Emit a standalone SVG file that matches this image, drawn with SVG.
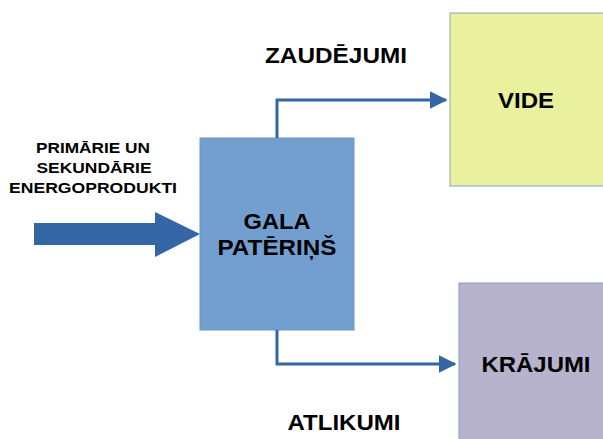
<svg xmlns="http://www.w3.org/2000/svg" width="603" height="439" viewBox="0 0 603 439">
<style>
text{font-family:"Liberation Sans",Arial,sans-serif;font-weight:bold;fill:#000;text-anchor:middle}
.big{font-size:22px}
.small{font-size:15px}
.conn{fill:none;stroke:#3465a4;stroke-width:3}
</style>
<defs>
<marker id="ah" markerWidth="6" markerHeight="6" refX="5.5" refY="3" orient="auto" markerUnits="strokeWidth">
<path d="M0,0 L6,3 L0,6 Z" fill="#3465a4"/>
</marker>
</defs>
<rect width="603" height="439" fill="#fff"/>
<g id="vide">
<rect x="450" y="13" width="160" height="173" fill="#e9f19e" stroke="#8aa3bf" stroke-width="1"/>
<text class="big" x="526" y="108" textLength="56" lengthAdjust="spacingAndGlyphs">VIDE</text>
</g>
<g id="krajumi">
<rect x="459" y="283" width="160" height="170" fill="#b7b3cc" stroke="#7f9fc6" stroke-width="1"/>
<text class="big" x="536" y="372" textLength="109" lengthAdjust="spacingAndGlyphs">KRĀJUMI</text>
</g>
<g id="gala">
<rect x="200" y="138" width="154" height="192" fill="#729fcf" stroke="#6d94c4" stroke-width="1"/>
<text class="big" x="277" y="229" textLength="67" lengthAdjust="spacingAndGlyphs">GALA</text>
<text class="big" x="277" y="255" textLength="119" lengthAdjust="spacingAndGlyphs">PATĒRIŅŠ</text>
</g>
<g id="input">
<path d="M34,223 L155,223 L155,212 L200,234 L155,257 L155,245 L34,245 Z" fill="#3465a4"/>
<text class="small" x="93" y="153" textLength="114" lengthAdjust="spacingAndGlyphs">PRIMĀRIE UN</text>
<text class="small" x="94" y="173" textLength="115" lengthAdjust="spacingAndGlyphs">SEKUNDĀRIE</text>
<text class="small" x="93" y="193" textLength="168" lengthAdjust="spacingAndGlyphs">ENERGOPRODUKTI</text>
</g>
<g id="labels">
<text class="big" x="336" y="63" textLength="142" lengthAdjust="spacingAndGlyphs">ZAUDĒJUMI</text>
<text class="big" x="344" y="430" textLength="113" lengthAdjust="spacingAndGlyphs">ATLIKUMI</text>
</g>
<g id="connectors">
<path class="conn" d="M277,138 L277,100 L446,100" marker-end="url(#ah)"/>
<path class="conn" d="M277,330 L277,364 L455,364" marker-end="url(#ah)"/>
</g>
</svg>
